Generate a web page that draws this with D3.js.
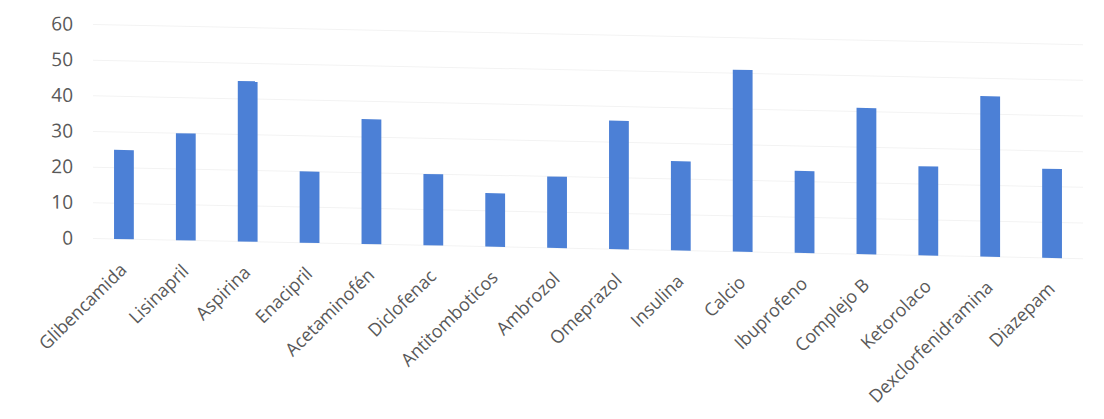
<!DOCTYPE html>
<html>
<head>
<meta charset="utf-8">
<script src="https://cdn.jsdelivr.net/npm/d3@7"></script>
<style>
  html, body { margin: 0; padding: 0; background: #ffffff; }
  svg { display: block; }
  text { font-family: "Open Sans", "Liberation Sans", sans-serif; fill: #595959; }
</style>
</head>
<body>
<svg id="chart" width="1104" height="419"></svg>
<script>
// Medicamentos y cantidades
const categories = [
  "Glibencamida", "Lisinapril", "Aspirina", "Enacipril", "Acetaminofén",
  "Diclofenac", "Antitomboticos", "Ambrozol", "Omeprazol", "Insulina",
  "Calcio", "Ibuprofeno", "Complejo B", "Ketorolaco", "Dexclorfenidramina", "Diazepam"
];
const values = [25, 30, 45, 20, 35, 20, 15, 20, 36, 25, 51, 23, 41, 25, 45, 25];
const yTicks = [0, 10, 20, 30, 40, 50, 60];

const svg = d3.select("#chart");

// slight tilt of the whole plot
const tilt = 1.17;
const pivotX = 70;
const g = svg.append("g")
  .attr("transform", `translate(${pivotX},0) skewY(${tilt}) translate(${-pivotX},0)`);

const x = d3.scaleBand()
  .domain(categories)
  .range([93, 1083])
  .paddingInner(0.68)
  .paddingOuter(0.34);

const y = d3.scaleLinear()
  .domain([0, 60])
  .range([238, 24]);

// gridlines
g.append("g")
  .selectAll("line")
  .data(yTicks)
  .join("line")
  .attr("x1", 93)
  .attr("x2", 1083)
  .attr("y1", d => y(d))
  .attr("y2", d => y(d))
  .attr("stroke", "#f3f3f3")
  .attr("stroke-width", 1);

// y axis labels
const yAxis = d3.axisLeft(y).tickValues(yTicks).tickSize(0).tickPadding(0);
g.append("g")
  .attr("transform", "translate(73,0)")
  .call(yAxis)
  .call(s => s.select(".domain").remove())
  .call(s => s.selectAll("text")
    .attr("font-size", 19)
    .attr("fill", "#575757")
    .style("font-family", "'Open Sans', sans-serif"));

// bars
g.append("g")
  .selectAll("rect")
  .data(values)
  .join("rect")
  .attr("x", (d, i) => x(categories[i]))
  .attr("width", x.bandwidth())
  .attr("y", d => y(d))
  .attr("height", d => y(0) - y(d))
  .attr("fill", "#4c80d6");

// category labels
const xAxis = d3.axisBottom(x).tickSize(0).tickPadding(0);
g.append("g")
  .attr("transform", `translate(0,${y(0)})`)
  .call(xAxis)
  .call(s => s.select(".domain").remove())
  .call(s => s.selectAll(".tick text")
    .attr("font-size", 18)
    .attr("fill", "#575757")
    .style("font-family", "'Open Sans', sans-serif")
    .attr("text-anchor", "end")
    .attr("x", 0)
    .attr("y", 0)
    .attr("dy", 0)
    .attr("transform", "translate(4,32) rotate(-45)"));
</script>
</body>
</html>
